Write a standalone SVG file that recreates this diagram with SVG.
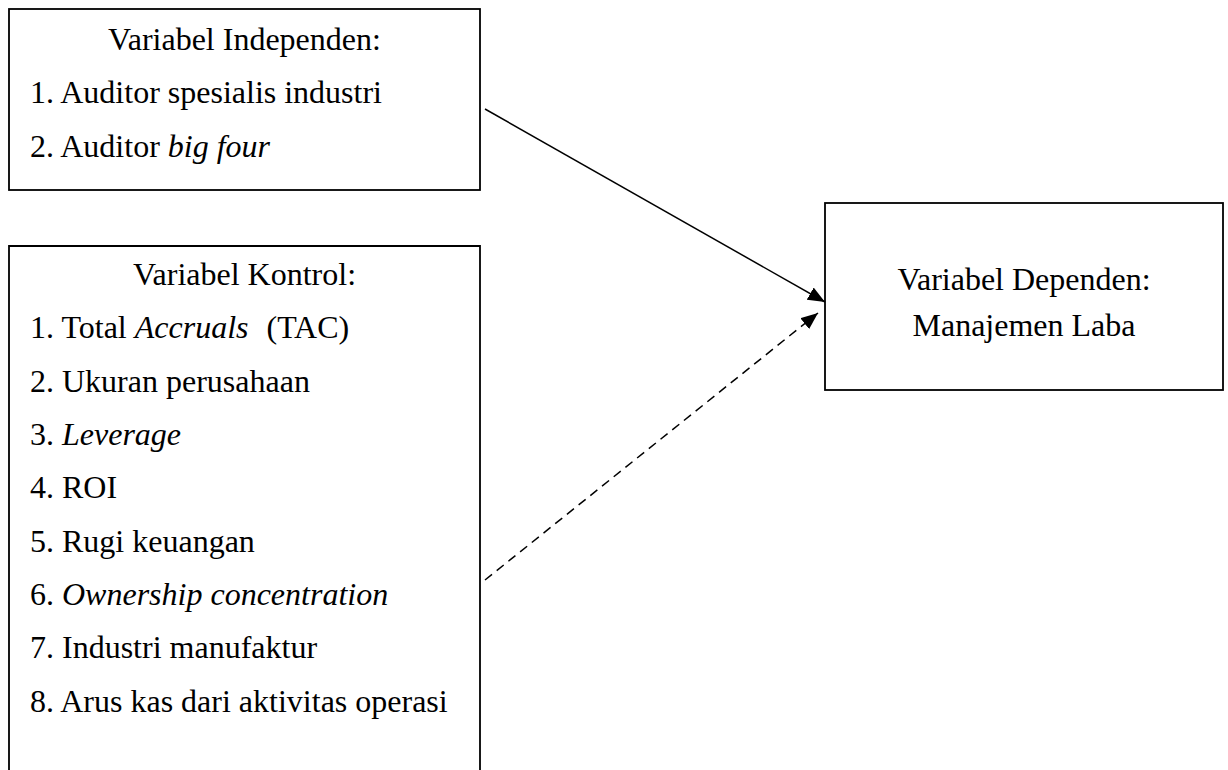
<svg xmlns="http://www.w3.org/2000/svg" width="1228" height="770" viewBox="0 0 1228 770">
<defs>
<style>
.box{fill:#fff;stroke:#000;stroke-width:1.8}
text{font-family:"Liberation Serif","Times New Roman",serif;font-size:32px;fill:#000}
.c{text-anchor:middle}
.i{font-style:italic}
.ln{stroke:#000;stroke-width:1.5;fill:none}
.dash{stroke-dasharray:9 6}
</style>
<marker id="ah" markerUnits="userSpaceOnUse" markerWidth="18" markerHeight="14" refX="17" refY="7" orient="auto">
<path d="M0,0 L17,7 L0,14 Z" fill="#000"/>
</marker>
</defs>
<rect width="1228" height="770" fill="#fff"/>
<g id="independen">
<rect class="box" x="9" y="9" width="471" height="181"/>
<text class="c" x="244.5" y="50">Variabel Independen:</text>
<text x="30" y="103">1. Auditor spesialis industri</text>
<text x="30" y="157">2. Auditor <tspan class="i">big four</tspan></text>
</g>
<g id="kontrol">
<path class="box" d="M9,780 L9,246 L480,246 L480,780"/>
<text class="c" x="244.5" y="285">Variabel Kontrol:</text>
<text x="30" y="338">1. Total <tspan class="i">Accruals</tspan><tspan dx="18">(TAC)</tspan></text>
<text x="30" y="391.5">2. Ukuran perusahaan</text>
<text x="30" y="445">3. <tspan class="i">Leverage</tspan></text>
<text x="30" y="498">4. ROI</text>
<text x="30" y="551.5">5. Rugi keuangan</text>
<text x="30" y="605">6. <tspan class="i">Ownership concentration</tspan></text>
<text x="30" y="658">7. Industri manufaktur</text>
<text x="30" y="711.5">8. Arus kas dari aktivitas operasi</text>
</g>
<g id="dependen">
<rect class="box" x="825" y="203" width="398" height="187"/>
<text class="c" x="1024" y="290">Variabel Dependen:</text>
<text class="c" x="1024" y="336">Manajemen Laba</text>
</g>
<g id="connectors">
<line class="ln" x1="485" y1="109" x2="825" y2="302" marker-end="url(#ah)"/>
<line class="ln dash" x1="485" y1="580" x2="818" y2="313" marker-end="url(#ah)"/>
</g>
</svg>
